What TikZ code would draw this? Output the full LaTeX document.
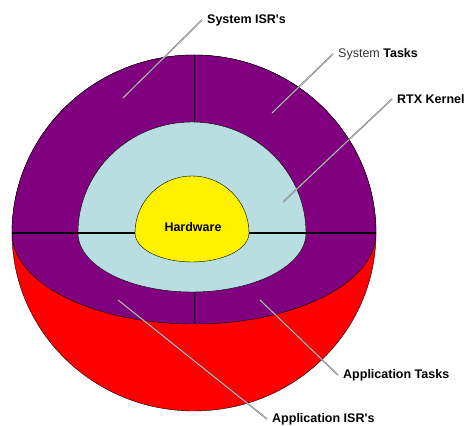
\documentclass[tikz,border=0pt]{standalone}
\usepackage{fontspec}
\setmainfont{Liberation Sans}
\usepackage{xcolor}
\definecolor{rtxpurple}{HTML}{800080}
\definecolor{rtxblue}{HTML}{B8DEE2}

\begin{document}
\begin{tikzpicture}[x=1pt,y=1pt,
	lbl/.style={font=\fontsize{12.5}{14}\selectfont\bfseries, anchor=west, inner sep=5pt},
	leader/.style={draw=gray!90!black, double=gray!35, double distance=0.45pt, line width=0.5pt}]
		\useasboundingbox (0,0) rectangle (472,426);
		% outer sphere
		\filldraw[fill=red, draw=black, thin](194,193) ellipse[x radius=182, y radius=178];
		\filldraw[fill=rtxpurple, draw=black, thin](376,193) arc[start angle=0, end angle=180, x radius=182, y radius=178]--cycle;
		\filldraw[fill=rtxpurple, draw=black, thin](12,193) arc[start angle=180, end angle=360, x radius=182, y radius=91]--cycle;
		% kernel
		\filldraw[fill=rtxblue, draw=black, thin](306,193) arc[start angle=0, end angle=180, x radius=114, y radius=111]
			arc[start angle=180, end angle=360, x radius=114, y radius=59];
		\draw[line width=1.3pt](12,193)--(376,193);
		\draw[thick](194,371)--(194,304);
		\draw[thick](194,134)--(194,102);
		% hardware
		\filldraw[fill=yellow, draw=black, thin](249,193) arc[start angle=0, end angle=180, x radius=57, y radius=57]
			arc[start angle=180, end angle=360, x radius=57, y radius=29];
		\node (hw) at(193,199){\fontsize{12.5}{14}\selectfont\bfseries Hardware};
		% labels
		\node[lbl] (sisr) at(202,406){System ISR\textquotesingle s};
		\node[lbl] (stask) at(333,372){\textmd{\color{black!80}System} Tasks};
		\node[lbl] (rtx) at(392,327){RTX Kernel};
		\node[lbl] (atask) at(338,51){Application Tasks};
		\node[lbl] (aisr) at(267,7){Application ISR\textquotesingle s};
		\coordinate (sisr-end) at(123,328);
		\coordinate (stask-end) at(272,313);
		\coordinate (rtx-end) at(283,224);
		\coordinate (atask-end) at(260,126);
		\coordinate (aisr-end) at(118,126);
		\draw[leader](sisr.west)--(sisr-end);
		\draw[leader](stask.west)--(stask-end);
		\draw[leader](rtx.west)--(rtx-end);
		\draw[leader](atask.west)--(atask-end);
		\draw[leader](aisr.west)--(aisr-end);
		\end{tikzpicture}
\end{document}
